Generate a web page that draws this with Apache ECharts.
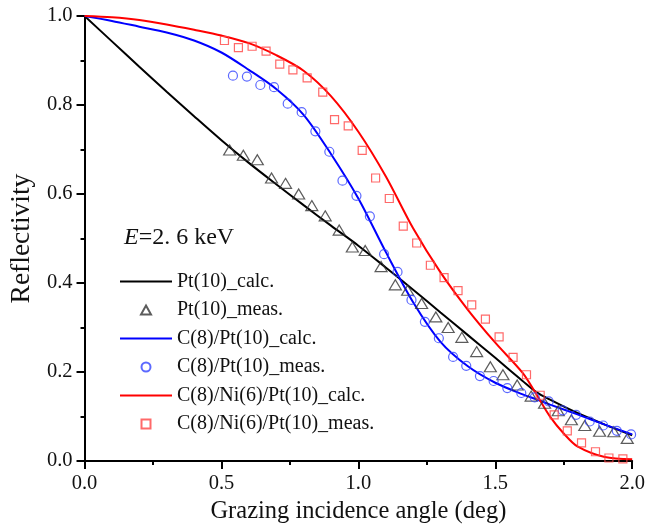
<!DOCTYPE html>
<html>
<head>
<meta charset="utf-8">
<script src="https://cdn.jsdelivr.net/npm/echarts@6/dist/echarts.min.js"></script>
<style>
html,body{margin:0;padding:0;background:#fff;}
#chart{width:648px;height:529px;}
</style>
</head>
<body>
<div id="chart"></div>
<script>
// Calculated curves (x = grazing angle in deg, y = reflectivity)
const calcAngles = [0.0, 0.1, 0.2, 0.3, 0.4, 0.5, 0.6, 0.7, 0.8, 0.9, 1.0, 1.1, 1.2, 1.3, 1.4, 1.5, 1.6, 1.65, 1.7, 1.8, 1.9, 2.0];
const ptCalc    = [1.000, 0.943, 0.886, 0.830, 0.775, 0.721, 0.670, 0.622, 0.575, 0.529, 0.484, 0.435, 0.385, 0.334, 0.283, 0.232, 0.180, 0.155, 0.138, 0.108, 0.082, 0.058];
const cPtCalc   = [1.000, 0.989, 0.976, 0.963, 0.945, 0.918, 0.879, 0.836, 0.778, 0.690, 0.590, 0.470, 0.357, 0.268, 0.213, 0.176, 0.150, 0.139, 0.127, 0.105, 0.082, 0.060];
const cNiPtAngles = [0.0, 0.1, 0.2, 0.3, 0.4, 0.5, 0.6, 0.7, 0.8, 0.9, 1.0, 1.1, 1.2, 1.3, 1.4, 1.5, 1.6, 1.65, 1.7, 1.75, 1.8, 1.9, 2.0];
const cNiPtCalc = [1.000, 0.997, 0.991, 0.981, 0.969, 0.956, 0.939, 0.912, 0.877, 0.820, 0.740, 0.640, 0.523, 0.424, 0.340, 0.266, 0.198, 0.150, 0.100, 0.062, 0.033, 0.009, 0.004];

// Measured points
const ptMeasX = [0.530, 0.580, 0.631, 0.683, 0.734, 0.782, 0.830, 0.879, 0.930, 0.978, 1.025, 1.083, 1.135, 1.180, 1.231, 1.283, 1.328, 1.378, 1.432, 1.482, 1.528, 1.580, 1.631, 1.680, 1.730, 1.778, 1.827, 1.881, 1.933, 1.982];
const ptMeasY = [0.699, 0.687, 0.677, 0.636, 0.624, 0.600, 0.574, 0.551, 0.519, 0.481, 0.473, 0.437, 0.396, 0.384, 0.354, 0.324, 0.300, 0.278, 0.246, 0.212, 0.194, 0.171, 0.146, 0.130, 0.113, 0.093, 0.080, 0.067, 0.066, 0.051];

const cPtMeasX = [0.542, 0.593, 0.642, 0.692, 0.742, 0.793, 0.843, 0.894, 0.942, 0.993, 1.042, 1.094, 1.143, 1.194, 1.243, 1.294, 1.346, 1.394, 1.444, 1.494, 1.544, 1.595, 1.644, 1.695, 1.746, 1.795, 1.845, 1.894, 1.944, 1.996];
const cPtMeasY = [0.866, 0.864, 0.845, 0.840, 0.803, 0.784, 0.741, 0.695, 0.630, 0.596, 0.550, 0.465, 0.425, 0.362, 0.313, 0.276, 0.234, 0.214, 0.191, 0.180, 0.164, 0.153, 0.143, 0.134, 0.114, 0.104, 0.089, 0.080, 0.068, 0.060];

const cNiPtMeasX = [0.511, 0.562, 0.612, 0.663, 0.713, 0.761, 0.813, 0.870, 0.913, 0.963, 1.014, 1.063, 1.113, 1.164, 1.213, 1.263, 1.313, 1.364, 1.414, 1.464, 1.514, 1.565, 1.614, 1.664, 1.715, 1.763, 1.815, 1.866, 1.915, 1.966];
const cNiPtMeasY = [0.945, 0.929, 0.932, 0.921, 0.892, 0.879, 0.861, 0.829, 0.767, 0.753, 0.698, 0.636, 0.590, 0.528, 0.490, 0.440, 0.412, 0.383, 0.351, 0.319, 0.279, 0.233, 0.194, 0.148, 0.104, 0.068, 0.041, 0.021, 0.007, 0.005];

const seriesNames = ['Pt(10)_calc.', 'Pt(10)_meas.', 'C(8)/Pt(10)_calc.', 'C(8)/Pt(10)_meas.', 'C(8)/Ni(6)/Pt(10)_calc.', 'C(8)/Ni(6)/Pt(10)_meas.'];
const xAxisTitle = 'Grazing incidence angle (deg)';
const yAxisTitle = 'Reflectivity';

const zip = (xs, ys) => xs.map((x, i) => [x, ys[i]]);
const SERIF = '"Liberation Serif", "Times New Roman", serif';

const chart = echarts.init(document.getElementById('chart'), null, {renderer: 'canvas'});

function lineSeries(name, xs, ys, color) {
  return {
    name, type: 'line', data: zip(xs, ys), symbol: 'none',
    smooth: 0.3,
    lineStyle: {color, width: 2}, itemStyle: {color}, z: 2
  };
}
function scatterSeries(name, xs, ys, color, symbol, size) {
  return {
    name, type: 'scatter', data: zip(xs, ys), symbol, symbolSize: size,
    itemStyle: {color: 'rgba(0,0,0,0)', borderColor: color, borderWidth: 1.2}, z: 3
  };
}

const LINE_ICON = 'path://M0,0 L52,0 L52,2 L0,2 Z';
const TRI_ICON = 'path://M5,0 L10,9 L0,9 Z';
const SQ_ICON = 'path://M0,0 L8,0 L8,8 L0,8 Z';
const legendIcons = [LINE_ICON, TRI_ICON, LINE_ICON, 'circle', LINE_ICON, SQ_ICON];

chart.setOption({
  animation: false,
  backgroundColor: '#fff',
  textStyle: {fontFamily: SERIF},
  title: {
    left: 124, top: 226, padding: 0,
    text: '{i|E}=2. 6 keV',
    textStyle: {
      fontFamily: SERIF, fontSize: 24, fontWeight: 'normal', color: '#111',
      rich: {i: {fontFamily: SERIF, fontStyle: 'italic', fontSize: 24, color: '#111'}}
    }
  },
  grid: {left: 82.7, right: 11.5, top: 16, bottom: 65.7, containLabel: false},
  legend: {
    orient: 'vertical', left: 115, top: 266.5, padding: 5,
    itemWidth: 52, itemHeight: 9, itemGap: 8.5, itemTextGap: 6,
    symbolKeepAspect: true,
    textStyle: {fontFamily: SERIF, fontSize: 20, color: '#111', lineHeight: 20},
    data: seriesNames.map((n, i) => ({name: n, icon: legendIcons[i]})),
    selectedMode: false
  },
  xAxis: {
    type: 'value', min: 0, max: 2, interval: 0.5,
    name: xAxisTitle, nameLocation: 'middle', nameGap: 36,
    nameTextStyle: {fontFamily: SERIF, fontSize: 24.5, color: '#111'},
    axisLine: {lineStyle: {color: '#000', width: 2}},
    axisTick: {show: true, inside: false, length: 8, lineStyle: {color: '#000', width: 2}},
    minorTick: {show: true, splitNumber: 2, length: 4, lineStyle: {color: '#000', width: 2}},
    splitLine: {show: false},
    axisLabel: {fontFamily: SERIF, fontSize: 20.5, color: '#111', margin: 12, formatter: v => v.toFixed(1)}
  },
  yAxis: {
    type: 'value', min: 0, max: 1, interval: 0.2,
    name: yAxisTitle, nameLocation: 'middle', nameGap: 45,
    nameTextStyle: {fontFamily: SERIF, fontSize: 27.5, color: '#111'},
    axisLine: {lineStyle: {color: '#000', width: 2}},
    axisTick: {show: true, inside: false, length: 8, lineStyle: {color: '#000', width: 2}},
    minorTick: {show: true, splitNumber: 2, length: 4, lineStyle: {color: '#000', width: 2}},
    splitLine: {show: false},
    axisLabel: {fontFamily: SERIF, fontSize: 20.5, color: '#111', margin: 12, formatter: v => v.toFixed(1)}
  },
  series: [
    lineSeries(seriesNames[0], calcAngles, ptCalc, '#000000'),
    scatterSeries(seriesNames[1], ptMeasX, ptMeasY, '#333333', 'triangle', [12, 10]),
    lineSeries(seriesNames[2], calcAngles, cPtCalc, '#0000ff'),
    scatterSeries(seriesNames[3], cPtMeasX, cPtMeasY, '#3344ff', 'circle', 9),
    lineSeries(seriesNames[4], cNiPtAngles, cNiPtCalc, '#ff0000'),
    scatterSeries(seriesNames[5], cNiPtMeasX, cNiPtMeasY, '#ff4444', 'rect', 8)
  ]
});
</script>
</body>
</html>
